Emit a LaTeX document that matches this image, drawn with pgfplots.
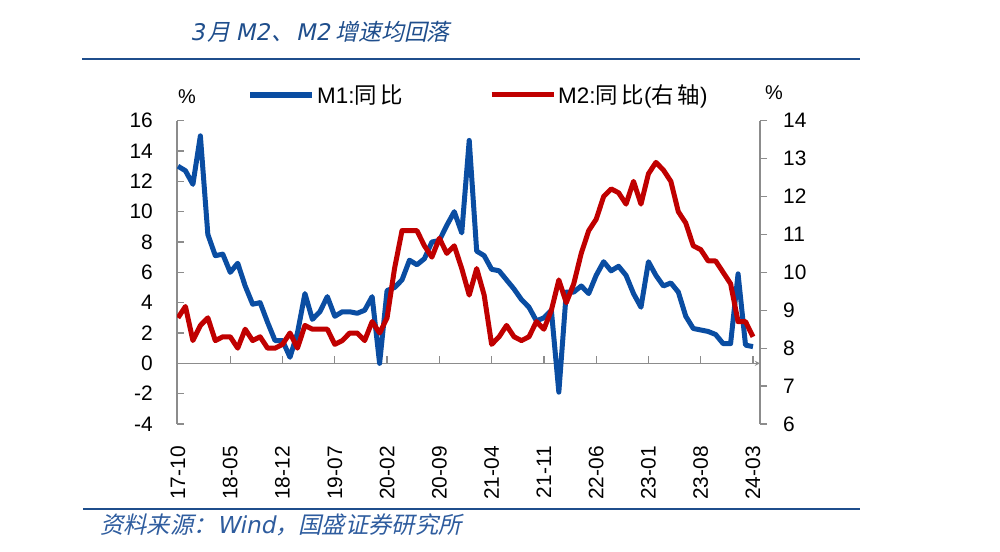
\documentclass[border=0pt]{standalone}
\usepackage{fontspec}
\setmainfont{Liberation Sans}
\newfontfamily\cjk{Noto Sans CJK SC}
\newfontfamily\cjkit{Noto Sans CJK SC}[FakeSlant=0.22]
\newfontfamily\latit{DejaVu Sans}[FakeSlant=0.2]
\usepackage{pgfplots}
\pgfplotsset{compat=1.18}
\usepackage{pgfplotstable}
\definecolor{mblue}{HTML}{0A4DA2}
\definecolor{mred}{HTML}{C00000}
\definecolor{tblue}{HTML}{1F4E8C}
\definecolor{sblue}{HTML}{2E5C9E}
\definecolor{axgray}{HTML}{8C8C8C}
\pgfplotstableread{
i m1 m2
0 13.0 8.8
1 12.7 9.1
2 11.8 8.2
3 15.0 8.6
4 8.5 8.8
5 7.1 8.2
6 7.2 8.3
7 6.0 8.3
8 6.6 8.0
9 5.1 8.5
10 3.9 8.2
11 4.0 8.3
12 2.7 8.0
13 1.5 8.0
14 1.5 8.1
15 0.4 8.4
16 2.0 8.0
17 4.6 8.6
18 2.9 8.5
19 3.4 8.5
20 4.4 8.5
21 3.1 8.1
22 3.4 8.2
23 3.4 8.4
24 3.3 8.4
25 3.5 8.2
26 4.4 8.7
27 0.0 8.4
28 4.8 8.8
29 5.0 10.1
30 5.5 11.1
31 6.8 11.1
32 6.5 11.1
33 6.9 10.7
34 8.0 10.4
35 8.1 10.9
36 9.1 10.5
37 10.0 10.7
38 8.6 10.1
39 14.7 9.4
40 7.4 10.1
41 7.1 9.4
42 6.2 8.1
43 6.1 8.3
44 5.5 8.6
45 4.9 8.3
46 4.2 8.2
47 3.7 8.3
48 2.8 8.7
49 3.0 8.5
50 3.5 9.0
51 -1.9 9.8
52 4.7 9.2
53 4.7 9.7
54 5.1 10.5
55 4.6 11.1
56 5.8 11.4
57 6.7 12.0
58 6.1 12.2
59 6.4 12.1
60 5.8 11.8
61 4.6 12.4
62 3.7 11.8
63 6.7 12.6
64 5.8 12.9
65 5.1 12.7
66 5.3 12.4
67 4.7 11.6
68 3.1 11.3
69 2.3 10.7
70 2.2 10.6
71 2.1 10.3
72 1.9 10.3
73 1.3 10.0
74 1.3 9.7
75 5.9 8.7
76 1.2 8.7
77 1.1 8.3
}\data
\pgfplotsset{base/.style={scale only axis, width=583bp, height=303.3bp,
  at={(177bp,128bp)}, anchor=south west, xmin=-0.13, xmax=77.94,
  /pgf/number format/assume math mode=true,
  tick label style={font=\fontsize{21}{24}\selectfont, inner sep=0pt},
  axis line style={axgray, line width=1.3bp},
  every tick/.style={axgray, line width=1.3bp},
  major tick length=7bp}}
\begin{document}
\begin{tikzpicture}[x=1bp,y=1bp]
\path[use as bounding box] (0,0) rectangle (1000,552);
% title
\node[anchor=west, text=tblue, inner sep=0pt] at (190,520) {\fontsize{23}{27}\selectfont{\latit 3}\hspace{3bp}{\cjkit 月}\hspace{5bp}{\latit M2}\hspace{1bp}{\cjkit 、}\hspace{2bp}{\latit M2}\hspace{5bp}{\cjkit 增速均回落}};
\draw[tblue, line width=2.5bp] (82,493) -- (860,493);
\draw[tblue, line width=2.5bp] (83,43) -- (860,43);
\node[anchor=west, text=sblue, inner sep=0pt] at (100,27) {\fontsize{23.4}{27}\selectfont{\cjkit 资料来源：}{\latit Wind}{\cjkit ，国盛证券研究所}};
\node[inner sep=0pt] at (187,455) {\fontsize{20}{24}\selectfont\%};
\node[inner sep=0pt] at (774,459) {\fontsize{20}{24}\selectfont\%};
% zero line axis
\begin{axis}[base, ymin=-4, ymax=16, axis x line=middle, axis y line=none,
  xtick={7,14,...,77}, xticklabels={}, xtick align=inside]
\end{axis}
% left axis M1
\begin{axis}[base, ymin=-4, ymax=16, ytick={-4,-2,...,16}, axis y line*=left,
  axis x line=none, ytick align=inside, yticklabel shift=24bp]
\addplot[mblue, line width=5bp, line join=round, no marks] table[x=i, y=m1] {\data};
\end{axis}
% right axis M2
\begin{axis}[base, ymin=6, ymax=14, ytick={6,7,...,14}, axis y line*=right,
  axis x line*=bottom, x axis line style={draw=none}, ytick align=outside,
  xtick={0,7,...,77},
  xticklabels={17-10,18-05,18-12,19-07,20-02,20-09,21-04,21-11,22-06,23-01,23-08,24-03},
  xticklabel style={rotate=90, anchor=east}, xticklabel shift=22bp,
  x tick style={draw=none}, yticklabel shift=16bp,
  legend image code/.code={\draw[#1] (0bp,0bp) -- (62bp,0bp);},
  legend columns=2,
  legend style={at={(axis description cs:0.1201,1.085)}, anchor=west, draw=none, fill=none,
    inner sep=0pt, font=\fontsize{22.5}{26}\selectfont,
    nodes={inner sep=2bp},
    /tikz/every even column/.append style={column sep=84bp}}]
\addlegendimage{mblue, line width=6bp}
\addlegendentry{M1:{\cjk 同\,比}}
\addplot[mred, line width=5bp, line join=round, no marks] table[x=i, y=m2] {\data};
\addlegendentry{M2:{\cjk 同\,比}({\cjk 右\,轴})}
\end{axis}
\end{tikzpicture}
\end{document}
